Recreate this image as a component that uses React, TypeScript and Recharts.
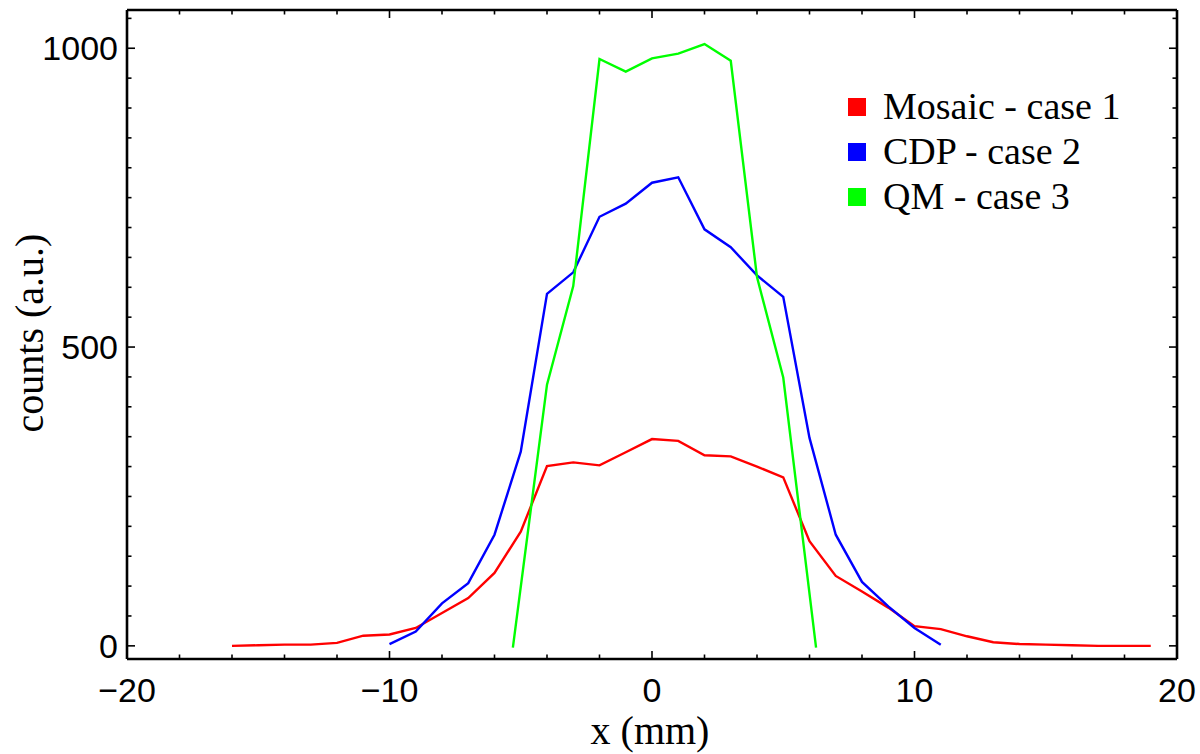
import { LineChart, Line, XAxis, YAxis, Legend } from 'recharts'

// Mosaic - case 1
const mosaicX = [-16, -15, -14, -13, -12, -11, -10, -9, -8, -7, -6, -5, -4, -3, -2, -1, 0, 1, 2, 3, 4, 5, 6, 7, 8, 9, 10, 11, 12, 13, 14, 15, 16, 17, 18, 19]
const mosaicY = [0, 1, 2, 2, 5, 17, 19, 30, 55, 80, 122, 191, 301, 307, 302, 324, 346, 343, 319, 317, 300, 282, 175, 117, 91, 64, 33, 28, 16, 6, 3, 2, 1, 0, 0, 0]

// CDP - case 2
const cdpX = [-10, -9, -8, -7, -6, -5, -4, -3, -2, -1, 0, 1, 2, 3, 4, 5, 6, 7, 8, 9, 10, 11]
const cdpY = [3, 24, 71, 105, 186, 325, 589, 625, 718, 740, 775, 784, 697, 667, 620, 584, 348, 186, 107, 66, 30, 2]

// QM - case 3
const qmX = [-5.3, -4, -3, -2, -1, 0, 1, 2, 3, 4, 5, 6.25]
const qmY = [-3, 437, 602, 982, 961, 983, 991, 1007, 979, 617, 449, -3]

const xTicks = [-20, -18, -16, -14, -12, -10, -8, -6, -4, -2, 0, 2, 4, 6, 8, 10, 12, 14, 16, 18, 20]
const xMajor = [-20, -10, 0, 10, 20]
const yTicks = [0, 50, 100, 150, 200, 250, 300, 350, 400, 450, 500, 550, 600, 650, 700, 750, 800, 850, 900, 950, 1000, 1050]
const yMajor = [0, 500, 1000]

const toPoints = (xs: number[], ys: number[]) => xs.map((x, i) => ({ x, y: ys[i] }))

const series = [
  { name: 'Mosaic - case 1', color: '#ff0000', data: toPoints(mosaicX, mosaicY) },
  { name: 'CDP - case 2', color: '#0000ff', data: toPoints(cdpX, cdpY) },
  { name: 'QM - case 3', color: '#00ff00', data: toPoints(qmX, qmY) },
]

const SERIF = '"Liberation Serif", "Times New Roman", serif'
const SANS = '"Liberation Sans", Arial, sans-serif'
const fmt = (v: number) => (v < 0 ? '\u2212' + Math.abs(v) : String(v))

// frame ticks point inward; labels only on bottom and left
function FrameTick(props: any) {
  const { x, y, payload, side } = props
  const v = payload.value
  const horiz = side === 'bottom' || side === 'top'
  const major = horiz ? xMajor.includes(v) : yMajor.includes(v)
  const len = major ? 8 : 4.5
  if (horiz) {
    const dir = side === 'bottom' ? -1 : 1
    return (
      <g>
        <line x1={x} x2={x} y1={y} y2={y + dir * len} stroke="#000" strokeWidth={1.6} />
        {side === 'bottom' && major && (
          <text x={x} y={y + 31} textAnchor="middle" dominantBaseline="central" fontFamily={SANS} fontSize={34} fill="#000">{fmt(v)}</text>
        )}
      </g>
    )
  }
  const dir = side === 'left' ? 1 : -1
  return (
    <g>
      <line x1={x} x2={x + dir * len} y1={y} y2={y} stroke="#000" strokeWidth={1.6} />
      {side === 'left' && major && (
        <text x={x - 9} y={y} textAnchor="end" dominantBaseline="central" fontFamily={SANS} fontSize={34} fill="#000">{fmt(v)}</text>
      )}
    </g>
  )
}

function LegendBox() {
  return (
    <div>
      {series.map(s => (
        <div key={s.name} style={{ display: 'flex', alignItems: 'center', height: 45 }}>
          <span style={{ display: 'inline-block', width: 18, height: 18, background: s.color, marginRight: 17 }} />
          <span style={{ fontFamily: SERIF, fontSize: 38, color: '#000', lineHeight: '45px' }}>{s.name}</span>
        </div>
      ))}
    </div>
  )
}

const axisLine = { stroke: '#000', strokeWidth: 2.6 }

export default function App() {
  return (
    <div style={{ position: 'relative', width: 1200, height: 754, background: '#fff' }}>
      <style>{'body{margin:0}'}</style>
      <LineChart width={1200} height={754} margin={{ top: 9, right: 22, bottom: 94, left: 126 }}>
        <XAxis xAxisId="bottom" dataKey="x" type="number" domain={[-20, 20]} ticks={xTicks} allowDataOverflow
          orientation="bottom" height={1} tickSize={0} tickMargin={0} tickLine={false} axisLine={axisLine}
          tick={(p: any) => <FrameTick {...p} side="bottom" />} interval={0} />
        <XAxis xAxisId="top" dataKey="x" type="number" domain={[-20, 20]} ticks={xTicks} allowDataOverflow
          orientation="top" height={1} tickSize={0} tickMargin={0} tickLine={false} axisLine={axisLine}
          tick={(p: any) => <FrameTick {...p} side="top" />} interval={0} />
        <YAxis yAxisId="left" type="number" domain={[-22, 1064]} ticks={yTicks} allowDataOverflow
          orientation="left" width={1} tickSize={0} tickMargin={0} tickLine={false} axisLine={axisLine}
          tick={(p: any) => <FrameTick {...p} side="left" />} interval={0} />
        <YAxis yAxisId="right" type="number" domain={[-22, 1064]} ticks={yTicks} allowDataOverflow
          orientation="right" width={1} tickSize={0} tickMargin={0} tickLine={false} axisLine={axisLine}
          tick={(p: any) => <FrameTick {...p} side="right" />} interval={0} />
        <Legend layout="vertical" align="center" verticalAlign="middle" content={<LegendBox />}
          wrapperStyle={{ left: 848, top: 84, width: 320, height: 140 }} />
        {series.map(s => (
          <Line key={s.name} xAxisId="bottom" yAxisId="left" data={s.data} dataKey="y" name={s.name}
            type="linear" stroke={s.color} strokeWidth={2.4} dot={false} isAnimationActive={false} />
        ))}
        {series.map(s => (
          <Line key={s.name + '-mirror'} xAxisId="top" yAxisId="right" data={s.data} dataKey="y" legendType="none"
            type="linear" stroke="none" strokeWidth={0} dot={false} isAnimationActive={false} />
        ))}
      </LineChart>
      <div style={{ position: 'absolute', left: 0, top: 708, width: 1300, textAlign: 'center', fontFamily: SERIF, fontSize: 40, lineHeight: '46px' }}>
        x (mm)
      </div>
      <div style={{ position: 'absolute', left: 30, top: 333, transform: 'translate(-50%, -50%) rotate(-90deg)', whiteSpace: 'nowrap', fontFamily: SERIF, fontSize: 40, lineHeight: '46px' }}>
        counts (a.u.)
      </div>
    </div>
  )
}
